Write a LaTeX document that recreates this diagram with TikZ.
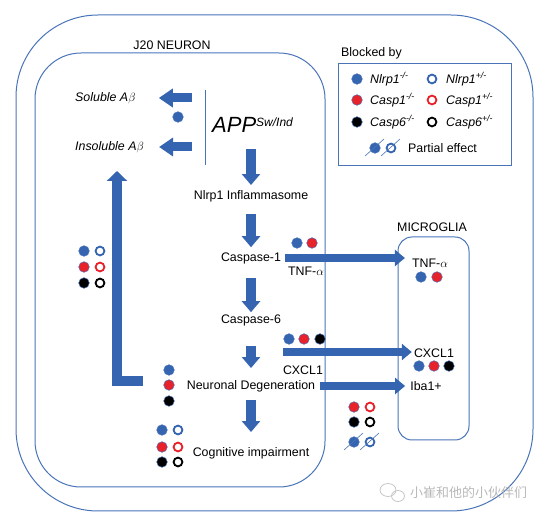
\documentclass[tikz,border=0pt]{standalone}
\usepackage{fontspec}
\setmainfont{Liberation Sans}
\newfontfamily\cjkfont{Noto Sans CJK SC}
\usetikzlibrary{arrows.meta}

\definecolor{arrblue}{HTML}{3565B0}
\definecolor{boxblue}{HTML}{4A74B8}
\definecolor{dotred}{HTML}{E8222B}

\begin{document}
\begin{tikzpicture}[x=1pt,y=-1pt]

    \tikzset{every node/.style={inner sep=0pt,font=\fontsize{12.4}{14}\selectfont},
             cellbox/.style={draw=boxblue,line width=1pt},
             leftarr/.style={arrblue,line width=9pt,-{Triangle[width=18pt,length=14pt]}},
             downarr/.style={arrblue,line width=10pt,-{Triangle[width=18pt,length=11pt]}},
             sidearr/.style={arrblue,line width=8pt,-{Triangle[width=16pt,length=10pt]}},
             bigarr/.style={arrblue,line width=10pt,line join=miter,-{Triangle[width=20pt,length=10pt]}},
             fulldot/.style={fill=#1,draw=boxblue,line width=0.5pt},
             ringdot/.style={draw=#1,line width=1.8pt},
             slash/.style={draw=boxblue,line width=0.6pt}}

    \useasboundingbox (0,0) rectangle (544,518);

    % compartments
    \draw[cellbox,rounded corners=82pt] (16,15) rectangle (533,511);
    \draw[cellbox,rounded corners=46pt] (35,53) rectangle (325,487);
    \draw[cellbox,rounded corners=14pt] (398,237) rectangle (469,440);
    \draw[cellbox] (338,64) rectangle (511,166);

    \node (j20) at (172,45) {J20 NEURON};
    \node (micro) at (432,227) {MICROGLIA};
    \node[anchor=west] (blocked) at (341,53) {Blocked by};

    % neuron pathway
    \node[anchor=base west] (app) at (212,133) {\fontsize{22}{24}\selectfont\itshape APP\raisebox{6pt}{\fontsize{12}{14}\selectfont Sw/Ind}};
    \node (nlrp) at (251,196) {Nlrp1 Inflammasome};
    \node (casp1) at (251,258) {Caspase-1};
    \node (casp6) at (251,320) {Caspase-6};
    \node (degen) at (251,386) {Neuronal Degeneration};
    \node (cog) at (251,453) {Cognitive impairment};
    \node[anchor=west] (sol) at (75,98) {\itshape Soluble A$\beta$};
    \node[anchor=west] (insol) at (75,147) {\itshape Insoluble A$\beta$};

    \node (tnflab) at (306,271) {TNF-$\alpha$};
    \node (cxcllab) at (303,370) {CXCL1};

    % microglia
    \node (tnfmg) at (430,263) {TNF-$\alpha$};
    \node (cxclmg) at (434,353) {CXCL1};
    \node (iba) at (426,386) {Iba1+};

    \coordinate (bartop) at (205,90);
    \coordinate (barbot) at (205,165);
    \coordinate (cxstart) at (283,352);
    \coordinate (lfoot) at (143,381.5);
    \coordinate (ltip) at (117,171);

    \draw[cellbox] (bartop) -- (barbot);

    \begin{scope}
        \draw[leftarr,shorten <=13pt,shorten >=23pt] (bartop |- sol) -- (sol.east);
        \draw[leftarr,shorten <=13pt,shorten >=15pt] (bartop |- insol) -- (insol.east);

        \draw[downarr,shorten <=16pt,shorten >=5pt] (nlrp |- app.south) -- (nlrp);
        \draw[downarr,shorten <=12pt,shorten >=5pt] (nlrp) -- (casp1);
        \draw[downarr,shorten <=14pt,shorten >=2pt] (casp1) -- (casp6);
        \draw[downarr,shorten <=20pt,shorten >=12pt] (casp6) -- (degen);
        \draw[downarr,shorten <=8pt,shorten >=15pt] (degen) -- (cog);

        \draw[sidearr,shorten <=4pt,shorten >=7pt] (casp1) -- (casp1 -| tnfmg.west);
        \draw[sidearr,shorten >=2pt] (cxstart) -- (cxstart -| cxclmg.west);
        \draw[sidearr,shorten <=5pt,shorten >=5pt] (degen) -- (degen -| iba.west);

        \draw[bigarr] (lfoot) -| (ltip);
    \end{scope}

    % blocked-by dots
    \foreach \x/\y/\c in {178/117/arrblue,
                          84/251/arrblue, 84/267/dotred, 84/283/black,
                          297/243/arrblue, 312/243/dotred,
                          421/277/arrblue, 437/277/dotred,
                          289/339/arrblue, 304/339/dotred, 320/339/black,
                          419/366/arrblue, 434/366/dotred, 449/366/black,
                          169/370/arrblue, 169/385/dotred, 169/401/black,
                          162/430/arrblue, 162/447/dotred, 162/462/black,
                          354/407/dotred, 354/422/black, 354/442/arrblue,
                          357/79/arrblue, 357/100/dotred, 357/122/black, 375/148/arrblue}
        \filldraw[fulldot=\c] (\x,\y) circle (5.3pt);

    \foreach \x/\y/\c in {100/251/arrblue, 100/267/dotred, 100/283/black,
                          178/430/arrblue, 178/447/dotred, 178/462/black,
                          370/407/dotred, 370/422/black, 370/442/arrblue,
                          432/79/arrblue, 432/100/dotred, 432/122/black, 391/148/arrblue}
        \draw[ringdot=\c] (\x,\y) circle (4.4pt);

    \foreach \x/\y in {354/442, 370/442, 375/148, 391/148}
        \draw[slash] (\x,\y) ++(-10,8) -- ++(19,-17);

    % legend
    \node[anchor=west] (leg1) at (370,79) {\itshape Nlrp1\textsuperscript{-/-}};
    \node[anchor=west] (leg2) at (370,100) {\itshape Casp1\textsuperscript{-/-}};
    \node[anchor=west] (leg3) at (370,122) {\itshape Casp6\textsuperscript{-/-}};
    \node[anchor=west] (leg4) at (446,79) {\itshape Nlrp1\textsuperscript{+/-}};
    \node[anchor=west] (leg5) at (446,100) {\itshape Casp1\textsuperscript{+/-}};
    \node[anchor=west] (leg6) at (446,122) {\itshape Casp6\textsuperscript{+/-}};
    \node[anchor=west] (leg7) at (408,148) {Partial effect};

    % watermark
    \draw[gray!45,line width=0.8pt] (388,490) ellipse (8pt and 6.5pt);
    \draw[gray!45,line width=0.8pt] (398,496) ellipse (6.5pt and 5.5pt);
    \node[anchor=west,text=gray!55] (wm) at (410,493) {\cjkfont\fontsize{13}{15}\selectfont 小崔和他的小伙伴们};

\end{tikzpicture}
\end{document}
